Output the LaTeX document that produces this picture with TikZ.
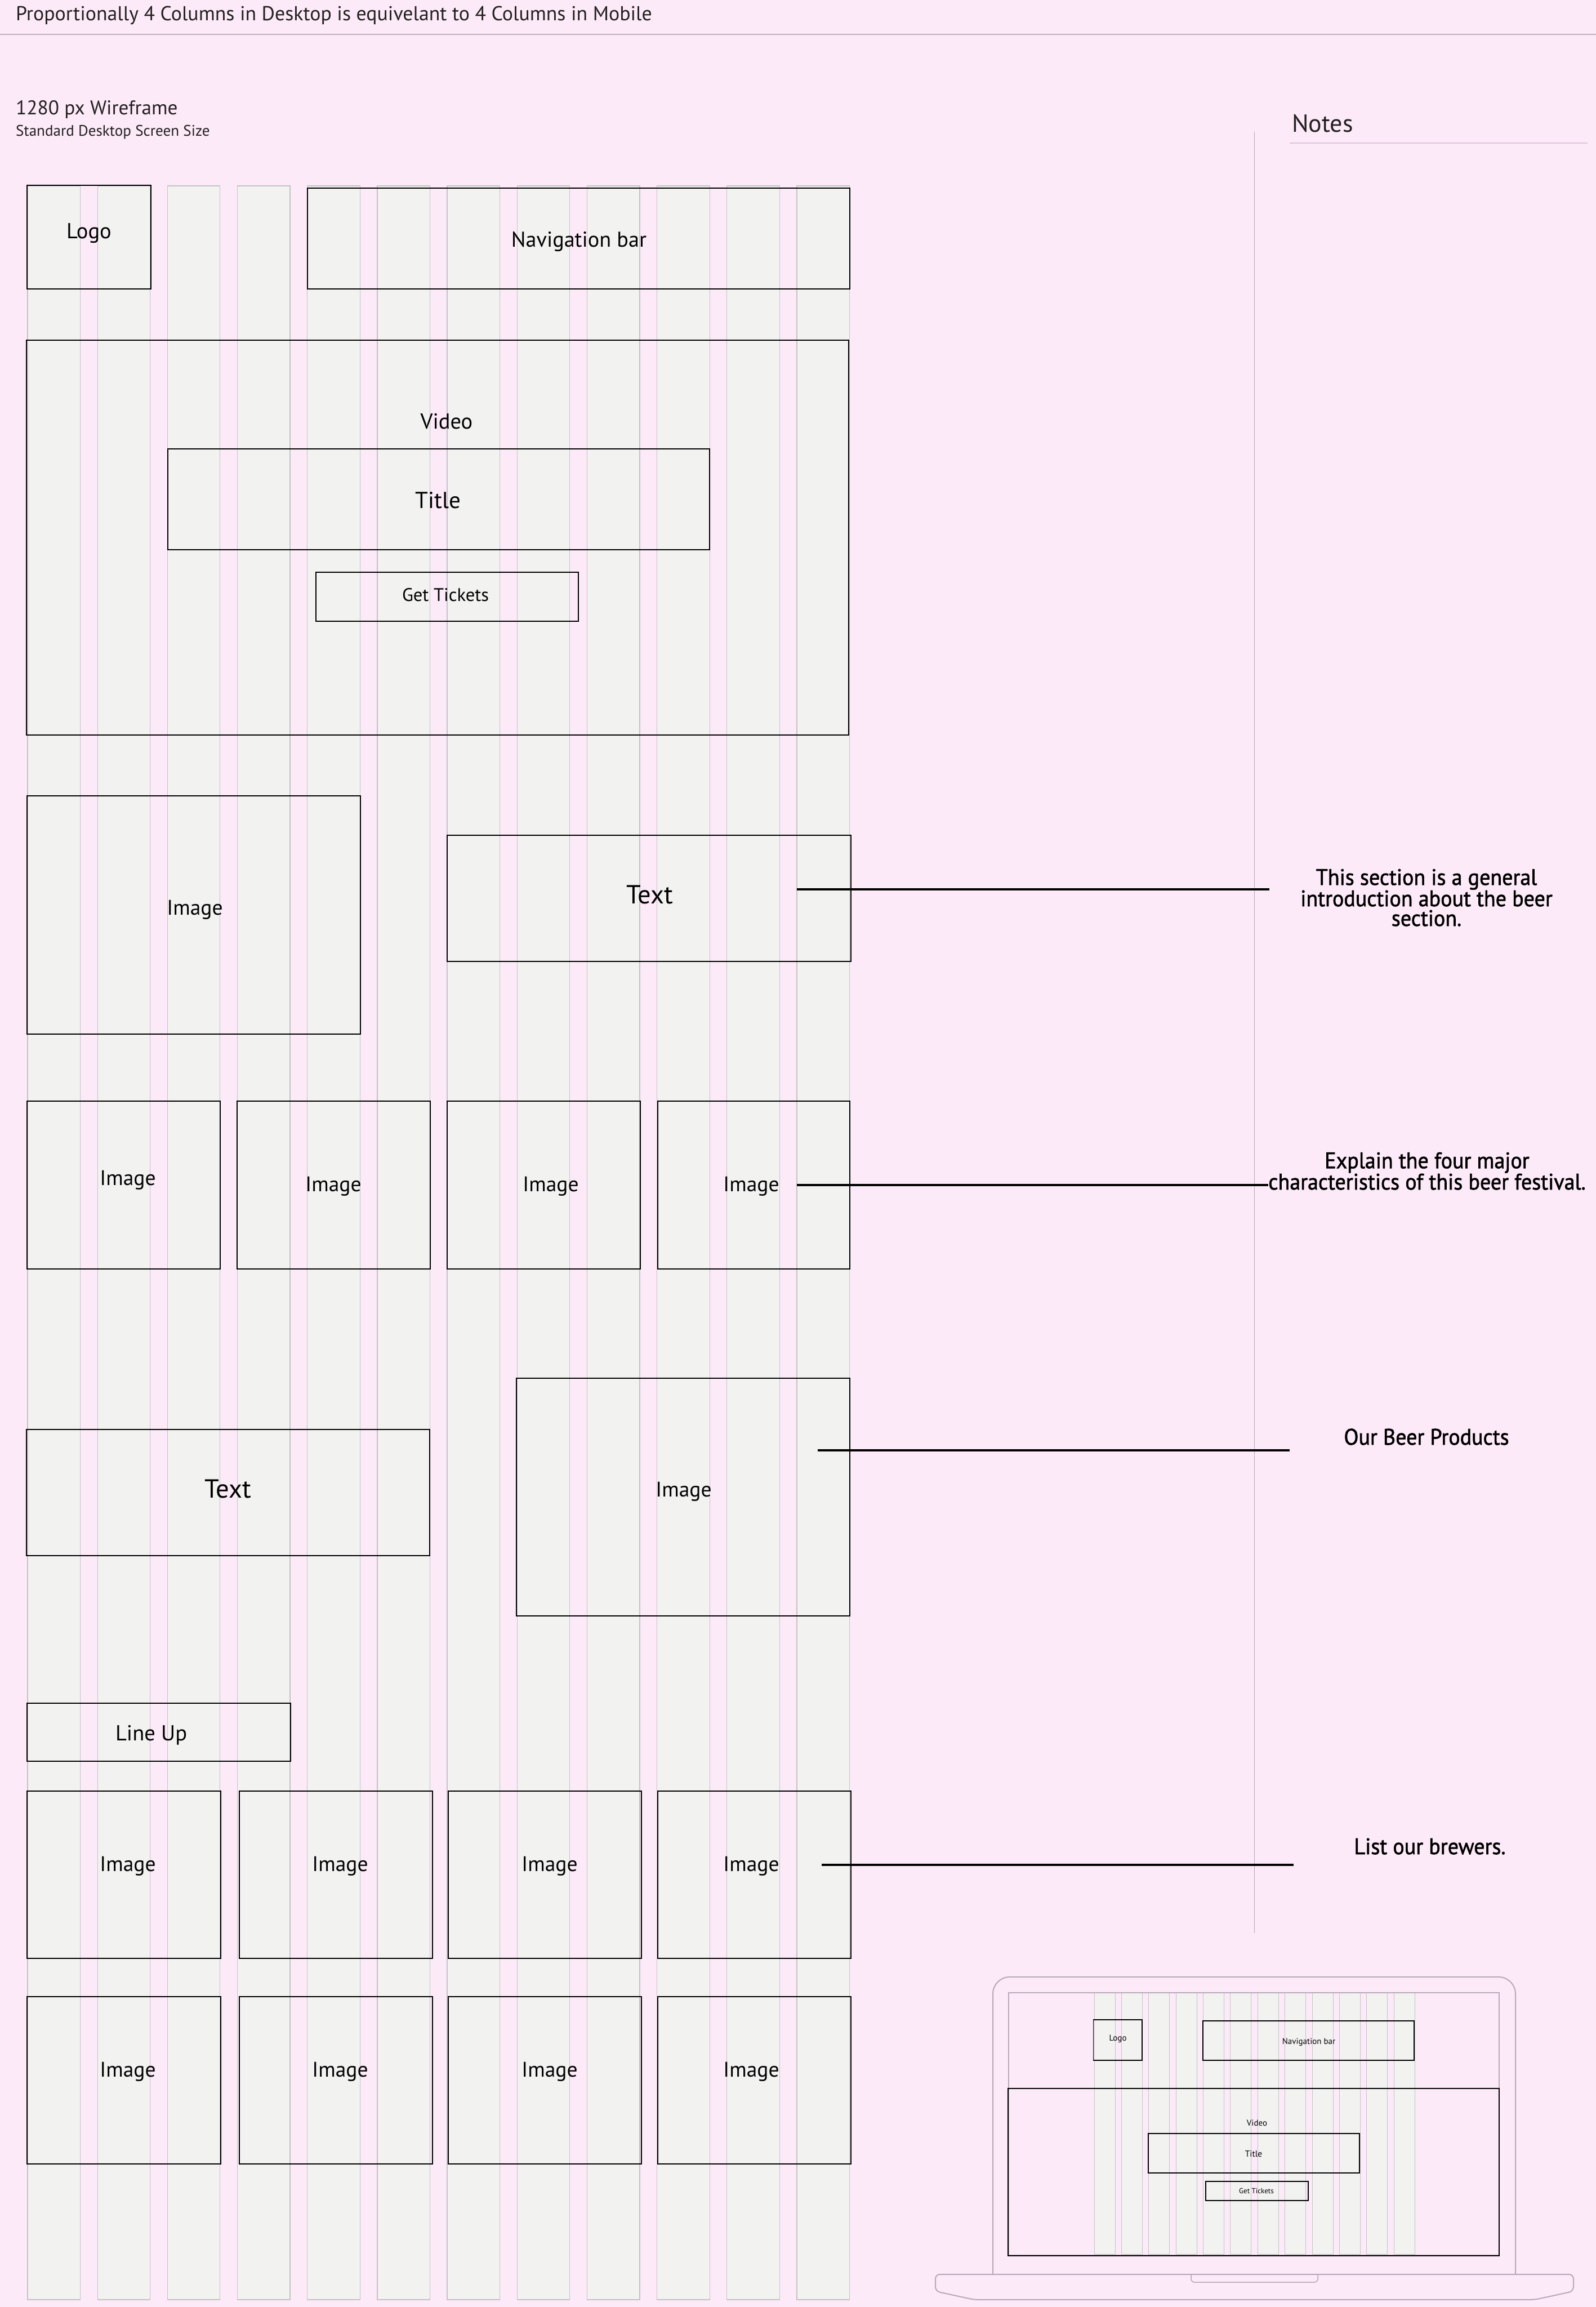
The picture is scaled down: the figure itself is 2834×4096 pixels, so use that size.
\documentclass[tikz,border=0pt]{standalone}
\usepackage{fontspec}
\setmainfont{PT Sans}
\newfontfamily\notefont[FakeStretch=0.95,FakeBold=1.5]{PT Sans}
\usetikzlibrary{fit}
\definecolor{pagepink}{HTML}{FCEAF8}
\definecolor{colgray}{HTML}{F2F3F1}
\definecolor{colline}{HTML}{C5C2C5}
\definecolor{rulegray}{HTML}{BFB0BE}
\definecolor{noterule}{HTML}{DCC6DA}
\definecolor{sideline}{HTML}{B3A9B2}
\definecolor{laptopline}{HTML}{B8A8B9}
\definecolor{inkdark}{HTML}{231F20}
\newcommand{\pxfont}[1]{\fontsize{#1}{#1}\selectfont}

\begin{document}
\begin{tikzpicture}[x=1pt, y=-1pt,
    colstrip/.style={fill=colgray, draw=colline, line width=1.2},
    ministrip/.style={fill=colgray, draw=colline, line width=0.8},
    wirebox/.style={draw=black, line width=2, inner sep=0},
    minibox/.style={draw=black, line width=1.2, inner sep=0},
    lbl/.style={inner sep=0, anchor=base, text=black},
    notetext/.style={inner sep=0, anchor=base, align=center, font=\notefont\fontsize{40}{35}\selectfont},
    callout/.style={draw=black, line width=3.3},
    laptop/.style={draw=laptopline, line width=2}]
        \fill[pagepink] (0,0) rectangle (2834,4096);
        \useasboundingbox (0,0) rectangle (2834,4096);
        \node[lbl, anchor=base west, text=inkdark, font=\pxfont{35.8}] (heading) at (28,36) {Proportionally 4 Columns in Desktop is equivelant to 4 Columns in Mobile};
        \draw[rulegray, line width=2] (0,61) -- (2834,61);
        \node[lbl, anchor=base west, text=inkdark, font=\pxfont{35.2}] (frame) at (28,203) {1280 px Wireframe};
        \node[lbl, anchor=base west, text=inkdark, font=\pxfont{27.1}] (screen) at (28,241) {Standard Desktop Screen Size};
        \node[lbl, anchor=base west, text=inkdark, font=\pxfont{44}] (notes) at (2294,234) {Notes};
        \draw[noterule, line width=2.5] (2290,254) -- (2819,254);
        \draw[sideline, line width=1.5] (2227.5,234) -- (2227.5,3432);
        \foreach \Col in {0,...,11}
        \filldraw[colstrip] ({49+124.18*\Col},330) rectangle ({142.5+124.18*\Col},4083);
        \node[wirebox, fit={(48,329) (268,513)}] (logo) {};
        \node[lbl, font=\pxfont{38.5}] (logoT) at (158,423) {Logo};
        \node[wirebox, fit={(546,334) (1509,513)}] (nav) {};
        \node[lbl, font=\pxfont{38.2}] (navT) at (1028,438.6) {Navigation bar};
        \node[wirebox, fit={(47,604) (1507,1305)}] (video) {};
        \node[lbl, font=\pxfont{38.5}] (videoT) at (793,761.5) {Video};
        \node[wirebox, fit={(298,797) (1260,976)}] (title) {};
        \node[lbl, font=\pxfont{41}] (titleT) at (778,902) {Title};
        \node[wirebox, fit={(561,1016) (1027,1103)}] (tickets) {};
        \node[lbl, font=\pxfont{32.5}] (ticketsT) at (791,1067.5) {Get Tickets};
        \node[wirebox, fit={(48,1413) (640,1836)}] (imgA) {};
        \node[lbl, font=\pxfont{37.5}] (imgAT) at (346,1624) {Image};
        \node[wirebox, fit={(794,1483) (1511,1707)}] (textA) {};
        \node[lbl, font=\pxfont{46.5}] (textAT) at (1154,1604) {Text};
        \foreach \Xa/\Xb/\Xl/\Yl [count=\i] in {48/391/227/2104.5, 421/764/592/2115, 794/1137/978/2115, 1168/1509/1334/2115}
        {
          \node[wirebox, fit={(\Xa,1955) (\Xb,2253)}] (rowA\i) {};
          \node[lbl, font=\pxfont{37.5}] (rowAT\i) at (\Xl,\Yl) {Image};
        }
        \node[wirebox, fit={(47,2538) (763,2762)}] (textB) {};
        \node[lbl, font=\pxfont{46.5}] (textBT) at (405,2659) {Text};
        \node[wirebox, fit={(917,2447) (1509,2869)}] (imgB) {};
        \node[lbl, font=\pxfont{37.5}] (imgBT) at (1214,2657) {Image};
        \node[wirebox, fit={(48,3024) (516,3127)}] (lineup) {};
        \node[lbl, font=\pxfont{38.5}] (lineupT) at (268.6,3090.7) {Line Up};
        \foreach \Xa/\Xb/\Xl [count=\i] in {48/392/227, 425/768/604, 796/1139/976, 1168/1511/1334}
        {
          \node[wirebox, fit={(\Xa,3180) (\Xb,3477)}] (rowB\i) {};
          \node[lbl, font=\pxfont{37.5}] (rowBT\i) at (\Xl,3322) {Image};
          \node[wirebox, fit={(\Xa,3545) (\Xb,3842)}] (rowC\i) {};
          \node[lbl, font=\pxfont{37.5}] (rowCT\i) at (\Xl,3687) {Image};
        }
        \node[notetext] (noteA) at (2533,1644) {This section is a general\\introduction about the beer\\section.};
        \node[notetext] (noteB) at (2534,2112) {Explain the four major\\characteristics of this beer festival.};
        \node[notetext] (noteC) at (2533,2565) {Our Beer Products};
        \node[notetext] (noteD) at (2539,3292) {List our brewers.};
        \foreach \Ya/\Xa/\Xb [count=\i] in {1579/1415/2254, 2104/1415/2252, 2575/1452/2290, 3311/1459/2297}
        {
          \coordinate (tip\i) at (\Xa,\Ya);
          \coordinate (end\i) at (\Xb,\Ya);
          \draw[callout] (tip\i) -- (end\i);
        }
        \draw[laptop, rounded corners=30] (1763,4039) -- (1763,3510) -- (2691,3510) -- (2691,4039);
        \foreach \Col in {0,...,11}
        \filldraw[ministrip] ({1943+48.36*\Col},3538) rectangle ({1980+48.36*\Col},4002);
        \draw[laptop, line width=1.5] (1791,3538) rectangle (2662,4004);
        \node[minibox, fit={(1941.5,3586) (2028,3658)}] (mlogo) {};
        \node[lbl, font=\pxfont{15}] (mlogoT) at (1985,3623) {Logo};
        \node[minibox, fit={(2136,3588) (2511,3658)}] (mnav) {};
        \node[lbl, font=\pxfont{15}] (mnavT) at (2324,3629) {Navigation bar};
        \node[minibox, fit={(1790,3708) (2662,4005)}] (mvideo) {};
        \node[lbl, font=\pxfont{15}] (mvideoT) at (2232,3774) {Video};
        \node[minibox, fit={(2039,3788) (2414,3858)}] (mtitle) {};
        \node[lbl, font=\pxfont{15.5}] (mtitleT) at (2226,3829) {Title};
        \node[minibox, fit={(2141,3873) (2323,3907)}] (mtickets) {};
        \node[lbl, font=\pxfont{13}] (mticketsT) at (2231,3894) {Get Tickets};
        \draw[laptop, rounded corners=8] (1730,4083) -- (1661,4068) -- (1661,4038) -- (2794,4038) -- (2794,4068) -- (2725,4083) -- cycle;
        \draw[laptop, line width=1.5, rounded corners=6] (2115,4039) -- (2115,4052) -- (2340,4052) -- (2340,4039);
      \end{tikzpicture}
\end{document}
